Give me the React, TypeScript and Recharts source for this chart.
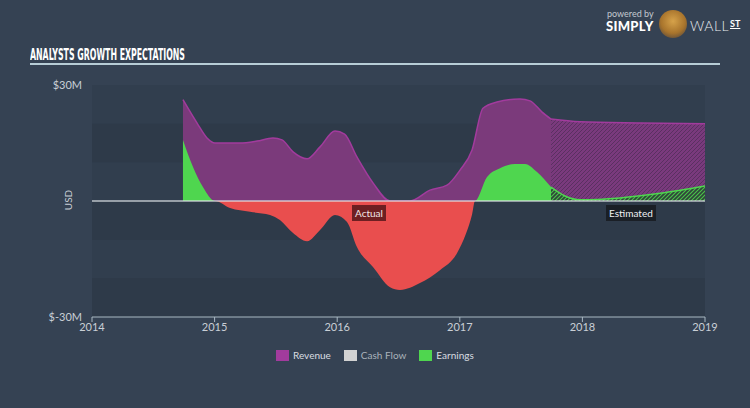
import { Area, AreaChart, ReferenceArea, ReferenceLine, XAxis, YAxis } from 'recharts';

// ─────────────────────────────────────────────────────────────
// Data (USD millions, x = fractional year)
// ─────────────────────────────────────────────────────────────
const revenueActual = [
  { x: 2014.742, v: 26.2 },
  { x: 2014.856, v: 20.2 },
  { x: 2014.938, v: 16.3 },
  { x: 2015.003, v: 15.0 },
  { x: 2015.207, v: 15.0 },
  { x: 2015.346, v: 15.5 },
  { x: 2015.476, v: 16.3 },
  { x: 2015.55, v: 15.8 },
  { x: 2015.64, v: 12.7 },
  { x: 2015.754, v: 10.9 },
  { x: 2015.86, v: 14 },
  { x: 2015.982, v: 18.1 },
  { x: 2016.06, v: 17.3 },
  { x: 2016.161, v: 11.4 },
  { x: 2016.292, v: 4.7 },
  { x: 2016.431, v: 0 },
  { x: 2016.594, v: 0 },
  { x: 2016.757, v: 2.8 },
  { x: 2016.896, v: 4.1 },
  { x: 2017.002, v: 8 },
  { x: 2017.1, v: 13.2 },
  { x: 2017.189, v: 24 },
  { x: 2017.303, v: 25.6 },
  { x: 2017.491, v: 26.4 },
  { x: 2017.573, v: 25.9 },
  { x: 2017.671, v: 23 },
  { x: 2017.744, v: 21.2 },
];

const revenueEstimated = [
  { x: 2017.744, v: 21.2 },
  { x: 2017.98, v: 20.5 },
  { x: 2018.47, v: 20.2 },
  { x: 2019.0, v: 20 },
];

const earningsActual = [
  { x: 2014.742, v: 15.8 },
  { x: 2014.824, v: 8.8 },
  { x: 2014.905, v: 3.6 },
  { x: 2015.003, v: 0 },
  { x: 2015.126, v: -1.8 },
  { x: 2015.289, v: -2.8 },
  { x: 2015.452, v: -3.6 },
  { x: 2015.533, v: -4.9 },
  { x: 2015.64, v: -8.3 },
  { x: 2015.754, v: -10.4 },
  { x: 2015.86, v: -7.5 },
  { x: 2015.982, v: -3.6 },
  { x: 2016.08, v: -5.4 },
  { x: 2016.161, v: -11.9 },
  { x: 2016.292, v: -17.1 },
  { x: 2016.431, v: -22.3 },
  { x: 2016.512, v: -23 },
  { x: 2016.675, v: -21.2 },
  { x: 2016.838, v: -17.9 },
  { x: 2016.977, v: -13.5 },
  { x: 2017.05, v: -8.5 },
  { x: 2017.1, v: -3.5 },
  { x: 2017.124, v: 0 },
  { x: 2017.222, v: 6.2 },
  { x: 2017.328, v: 8.5 },
  { x: 2017.45, v: 9.6 },
  { x: 2017.532, v: 9.6 },
  { x: 2017.63, v: 7.5 },
  { x: 2017.744, v: 3.6 },
];

const earningsEstimated = [
  { x: 2017.744, v: 3.6 },
  { x: 2017.858, v: 1.3 },
  { x: 2017.98, v: 0.3 },
  { x: 2018.307, v: 0.8 },
  { x: 2018.633, v: 2 },
  { x: 2019.0, v: 3.9 },
];

const xTicks = [2014, 2015, 2016, 2017, 2018, 2019];
const yTicks = [-30, 30];
const bands = [
  [20, 10],
  [0, -10],
  [-20, -30],
];

const earningsPositive = earningsActual.map((p) => ({ x: p.x, v: Math.max(p.v, 0) }));
const earningsNegative = earningsActual.map((p) => ({ x: p.x, v: Math.min(p.v, 0) }));

const BG = '#354253';
const TICK = '#c9cfd6';
const FONT = "Lato, 'Noto Sans', sans-serif";

const legendItems = [
  { name: 'Revenue', color: '#a23b9d' },
  { name: 'Cash Flow', color: '#d2d2d2' },
  { name: 'Earnings', color: '#4fd64f' },
];

function fmtY(v: number): string {
  return `$${v}M`;
}

function Patterns() {
  return (
    <svg width={0} height={0} style={{ position: 'absolute' }}>
      <defs>
        <pattern id="hatchRevenue" patternUnits="userSpaceOnUse" width={4} height={4}>
          <rect width={4} height={4} fill="#7a3a7d" />
          <path d="M-1,1 l2,-2 M0,4 l4,-4 M3,5 l2,-2" stroke="#5a3061" strokeWidth={1} />
        </pattern>
        <pattern id="hatchEarnings" patternUnits="userSpaceOnUse" width={4} height={4}>
          <rect width={4} height={4} fill="#2f453a" />
          <path d="M-1,1 l2,-2 M0,4 l4,-4 M3,5 l2,-2" stroke="#49c449" strokeWidth={1.1} />
        </pattern>
      </defs>
    </svg>
  );
}

export default function App() {
  return (
    <div
      style={{
        position: 'absolute',
        left: 0,
        top: 0,
        width: 750,
        height: 408,
        background: BG,
        fontFamily: FONT,
        overflow: 'hidden',
      }}
    >
      <Patterns />

      {/* logo */}
      <div style={{ position: 'absolute', left: 607, top: 8, color: '#c3c9d0', fontSize: 9 }}>powered by</div>
      <div style={{ position: 'absolute', left: 606, top: 18, color: '#fff', fontSize: 13, fontWeight: 900, letterSpacing: 0.3 }}>
        SIMPLY
      </div>
      <div
        style={{
          position: 'absolute',
          left: 659,
          top: 10,
          width: 28,
          height: 28,
          borderRadius: 14,
          background: 'radial-gradient(circle at 50% 40%, #d6a24a 0%, #a8742c 55%, #3a3a44 100%)',
        }}
      />
      <div style={{ position: 'absolute', left: 690, top: 17, color: '#e8ecef', fontSize: 14, fontWeight: 300, letterSpacing: 0.5 }}>
        WALL
      </div>
      <div
        style={{
          position: 'absolute',
          left: 730,
          top: 18,
          color: '#fff',
          fontSize: 9,
          fontWeight: 700,
          textDecoration: 'underline',
        }}
      >
        ST
      </div>

      {/* title */}
      <svg width={340} height={26} style={{ position: 'absolute', left: 30, top: 42 }}>
        <text
          x={0}
          y={18}
          fill="#ffffff"
          fontFamily="'DejaVu Sans Condensed', 'Liberation Sans Narrow', sans-serif"
          fontWeight={700}
          fontSize={16}
          textLength={155}
          lengthAdjust="spacingAndGlyphs"
        >
          ANALYSTS GROWTH EXPECTATIONS
        </text>
      </svg>
      <div style={{ position: 'absolute', left: 30, top: 63, width: 690, height: 2, background: '#b7cdd6' }} />

      {/* y axis title */}
      <div
        style={{
          position: 'absolute',
          left: 52,
          top: 194,
          width: 32,
          textAlign: 'center',
          color: TICK,
          fontSize: 10,
          transform: 'rotate(-90deg)',
        }}
      >
        USD
      </div>

      <AreaChart
        width={750}
        height={408}
        margin={{ top: 85, right: 45, bottom: 61, left: 32 }}
        style={{ position: 'absolute', left: 0, top: 0 }}
      >
        <XAxis
          type="number"
          dataKey="x"
          domain={[2014, 2019]}
          ticks={xTicks}
          allowDataOverflow
          height={30}
          stroke="#a9b8c3"
          tick={{ fill: TICK, fontSize: 11, fontFamily: FONT }}
          tickSize={5}
          tickMargin={1}
        />
        <YAxis
          type="number"
          domain={[-30, 30]}
          ticks={yTicks}
          width={60}
          axisLine={false}
          tickLine={false}
          tickMargin={4}
          tickFormatter={fmtY}
          tick={{ fill: TICK, fontSize: 11, fontFamily: FONT }}
        />
        <ReferenceArea x1={2014} x2={2019} y1={-30} y2={30} fill="#313e4e" fillOpacity={1} stroke="none" ifOverflow="hidden" />
        {bands.map(([a, b]) => (
          <ReferenceArea key={a} x1={2014} x2={2019} y1={b} y2={a} fill="#2e3a49" fillOpacity={1} stroke="none" />
        ))}

        <Area
          data={revenueActual}
          dataKey="v"
          type="monotone"
          fill="#7b3a7b"
          fillOpacity={1}
          stroke="#a23b9d"
          strokeWidth={1.5}
          isAnimationActive={false}
          dot={false}
          activeDot={false}
        />
        <Area
          data={revenueEstimated}
          dataKey="v"
          type="monotone"
          fill="url(#hatchRevenue)"
          fillOpacity={1}
          stroke="#a23b9d"
          strokeWidth={1.5}
          isAnimationActive={false}
          dot={false}
          activeDot={false}
        />
        <Area
          data={earningsPositive}
          dataKey="v"
          type="monotone"
          fill="#4fd64f"
          fillOpacity={1}
          stroke="none"
          isAnimationActive={false}
          dot={false}
          activeDot={false}
        />
        <Area
          data={earningsNegative}
          dataKey="v"
          type="monotone"
          fill="#e94e4e"
          fillOpacity={1}
          stroke="none"
          isAnimationActive={false}
          dot={false}
          activeDot={false}
        />
        <Area
          data={earningsEstimated}
          dataKey="v"
          type="monotone"
          fill="url(#hatchEarnings)"
          fillOpacity={1}
          stroke="#4fd64f"
          strokeWidth={1.5}
          isAnimationActive={false}
          dot={false}
          activeDot={false}
        />
        <ReferenceLine y={0} stroke="#dfe3e6" strokeOpacity={0.8} strokeWidth={1.5} />
      </AreaChart>

      {/* actual / estimated tags */}
      <div
        style={{
          position: 'absolute',
          left: 352,
          top: 205,
          padding: '1px 3px',
          background: '#6d1f22',
          color: '#f1e6e6',
          fontSize: 10,
          lineHeight: '14px',
        }}
      >
        Actual
      </div>
      <div
        style={{
          position: 'absolute',
          left: 606,
          top: 205,
          padding: '1px 3px',
          background: '#1a1f26',
          color: '#eef0f2',
          fontSize: 10,
          lineHeight: '14px',
        }}
      >
        Estimated
      </div>

      {/* legend */}
      <div
        style={{
          position: 'absolute',
          left: 276,
          top: 349,
          display: 'flex',
          alignItems: 'center',
          fontSize: 10,
          color: '#d9dde1',
        }}
      >
        {legendItems.map((it) => (
          <div key={it.name} style={{ display: 'flex', alignItems: 'center', marginRight: 13 }}>
            <span style={{ width: 13, height: 11, background: it.color, marginRight: 4, display: 'inline-block' }} />
            <span style={{ color: it.name === 'Cash Flow' ? '#aab2bb' : '#d9dde1' }}>{it.name}</span>
          </div>
        ))}
      </div>
    </div>
  );
}
